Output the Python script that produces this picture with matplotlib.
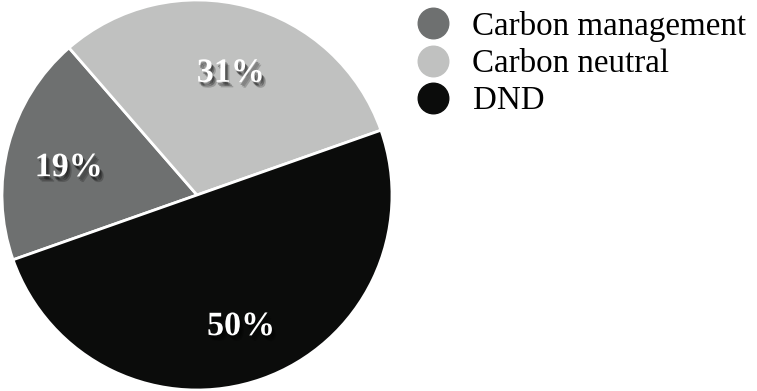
import matplotlib
matplotlib.use("Agg")
import matplotlib.pyplot as plt
import matplotlib.patheffects as pe
from matplotlib.lines import Line2D
from matplotlib.transforms import offset_copy

categories = ["Carbon management", "Carbon neutral", "DND"]
shares = [19, 31, 50]
colors = ["#6e7070", "#c0c1c0", "#0b0c0b"]

plt.rcParams["font.family"] = ["Liberation Serif", "DejaVu Serif"]

W, H, DPI = 757, 391, 100
fig = plt.figure(figsize=(W / DPI, H / DPI), dpi=DPI)

# pie axes: centre ~(197, 195) px from top-left, radius ~195 px
cx, cy, r = 197, 195, 195
ax = fig.add_axes([(cx - r) / W, (H - cy - r) / H, 2 * r / W, 2 * r / H])

wedges, texts = ax.pie(
    shares,
    colors=colors,
    startangle=199.4,
    counterclock=False,
    radius=1.0,
    labels=[f"{v}%" for v in shares],
    labeldistance=0.68,
    wedgeprops=dict(edgecolor="white", linewidth=2.0),
    textprops=dict(color="white", fontsize=24.5, fontweight="bold",
                   ha="center", va="center_baseline"),
)
ax.set_xlim(-1, 1)
ax.set_ylim(-1, 1)
ax.set_aspect("equal")
ax.axis("off")

for t in texts:
    t.set_transform(offset_copy(t.get_transform(), fig=fig, y=-3, units="dots"))
    t.set_path_effects([
        pe.SimplePatchShadow(offset=(3, -4), shadow_rgbFace="black", alpha=0.2),
        pe.SimplePatchShadow(offset=(2, -3), shadow_rgbFace="black", alpha=0.3),
        pe.SimplePatchShadow(offset=(1, -2), shadow_rgbFace="black", alpha=0.3),
        pe.Normal(),
    ])

handles = [Line2D([], [], linestyle="none", marker="o", markersize=22,
                  markerfacecolor=c, markeredgecolor=c) for c in colors]
fig.legend(handles, categories, loc="upper left",
           bbox_to_anchor=(413 / W, 1 - 11 / H), frameon=False,
           fontsize=23.8, handletextpad=0.6, labelspacing=0.2,
           borderaxespad=0, borderpad=0, handlelength=1.2)

fig.savefig("out.png", dpi=DPI, facecolor="white")
